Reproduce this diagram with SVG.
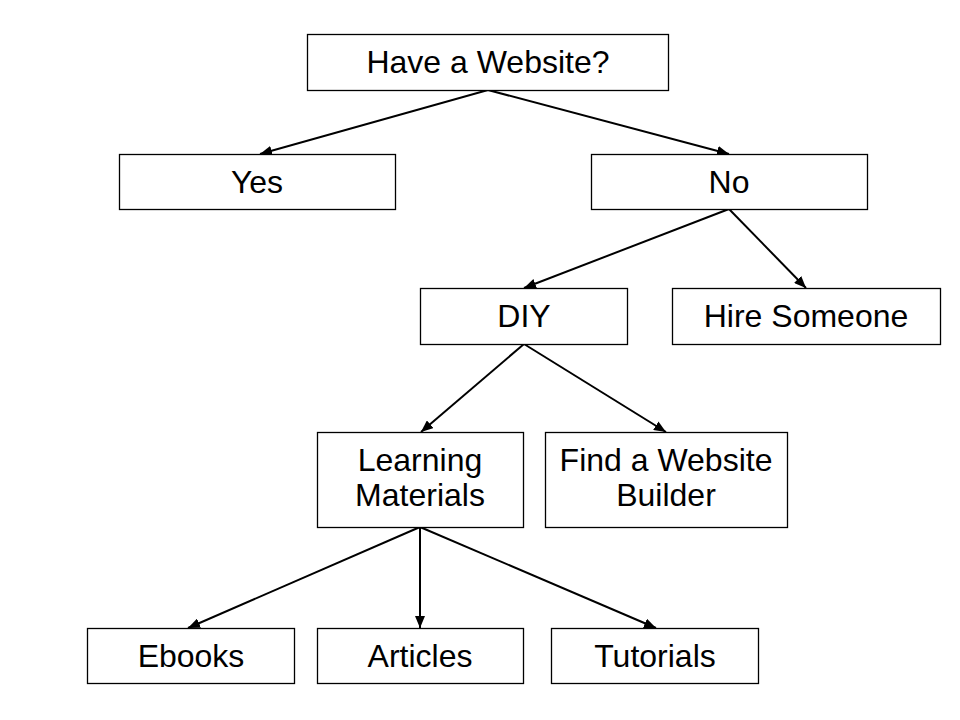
<svg xmlns="http://www.w3.org/2000/svg" width="960" height="720" viewBox="0 0 960 720">
<style>
.box{fill:#fff;stroke:#000;stroke-width:1.3}
.t{font-family:"Liberation Sans",Arial,sans-serif;font-size:32px;fill:#000;text-anchor:middle}
.c{stroke:#000;stroke-width:2;fill:none;marker-end:url(#ah)}
</style>
<defs>
<marker id="ah" viewBox="0 0 12 10" refX="12" refY="5" markerWidth="12" markerHeight="10" markerUnits="userSpaceOnUse" orient="auto">
<path d="M0,0 L12,5 L0,10 Z" fill="#000"/>
</marker>
</defs>
<rect width="960" height="720" fill="#fff"/>
<g id="connectors">
<line class="c" x1="488" y1="90" x2="260" y2="154"/>
<line class="c" x1="488" y1="90" x2="729" y2="154"/>
<line class="c" x1="729" y1="209" x2="524" y2="288"/>
<line class="c" x1="729" y1="209" x2="806" y2="288"/>
<line class="c" x1="524" y1="344" x2="421" y2="432"/>
<line class="c" x1="524" y1="344" x2="666" y2="432"/>
<line class="c" x1="420" y1="527" x2="188" y2="628"/>
<line class="c" x1="420" y1="527" x2="420" y2="628"/>
<line class="c" x1="420" y1="527" x2="656" y2="628"/>
</g>
<g id="n-website"><rect class="box" x="307.5" y="34.5" width="361" height="56"/><text class="t" x="488" y="73">Have a Website?</text></g>
<g id="n-yes"><rect class="box" x="119.5" y="154.5" width="276" height="55"/><text class="t" x="257" y="193">Yes</text></g>
<g id="n-no"><rect class="box" x="591.5" y="154.5" width="276" height="55"/><text class="t" x="729" y="193">No</text></g>
<g id="n-diy"><rect class="box" x="420.5" y="288.5" width="207" height="56"/><text class="t" x="524" y="327">DIY</text></g>
<g id="n-hire"><rect class="box" x="672.5" y="288.5" width="268" height="56"/><text class="t" x="806" y="327">Hire Someone</text></g>
<g id="n-learning"><rect class="box" x="317.5" y="432.5" width="206" height="95"/><text class="t" x="420" y="471">Learning</text><text class="t" x="420" y="506">Materials</text></g>
<g id="n-builder"><rect class="box" x="545.5" y="432.5" width="242" height="95"/><text class="t" x="666" y="471">Find a Website</text><text class="t" x="666" y="506">Builder</text></g>
<g id="n-ebooks"><rect class="box" x="87.5" y="628.5" width="207" height="55"/><text class="t" x="191" y="667">Ebooks</text></g>
<g id="n-articles"><rect class="box" x="317.5" y="628.5" width="206" height="55"/><text class="t" x="420" y="667">Articles</text></g>
<g id="n-tutorials"><rect class="box" x="551.5" y="628.5" width="207" height="55"/><text class="t" x="655" y="667">Tutorials</text></g>
</svg>
